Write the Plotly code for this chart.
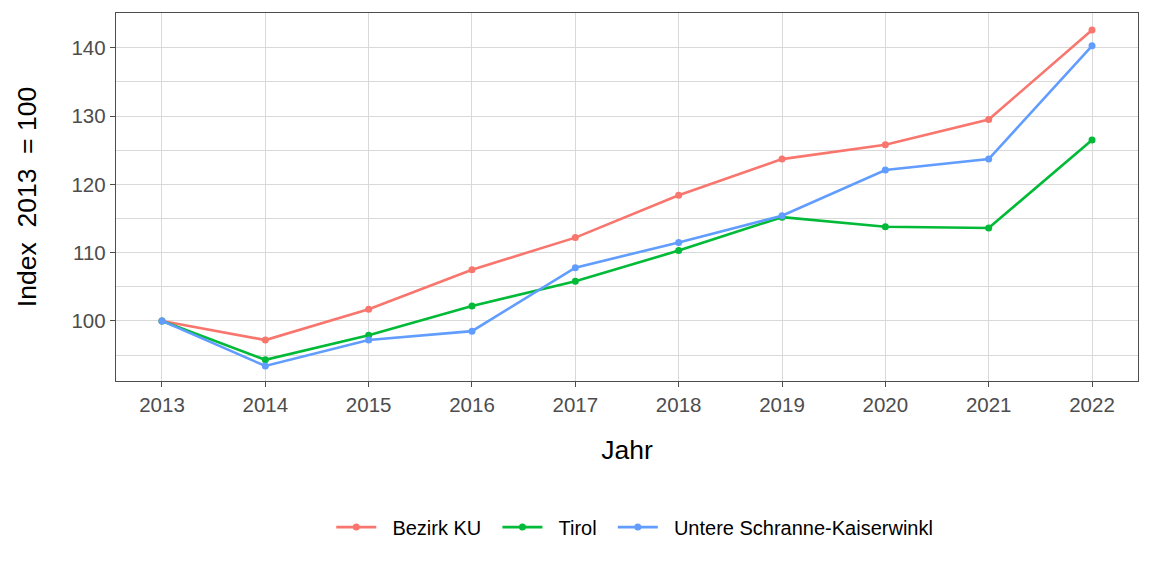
import plotly.graph_objects as go

years = [2013, 2014, 2015, 2016, 2017, 2018, 2019, 2020, 2021, 2022]
bezirk_ku = [100, 97.2, 101.7, 107.5, 112.2, 118.4, 123.7, 125.8, 129.5, 142.6]
tirol = [100, 94.3, 97.9, 102.2, 105.8, 110.3, 115.2, 113.8, 113.6, 126.5]
untere = [100, 93.4, 97.2, 98.5, 107.8, 111.5, 115.4, 122.1, 123.7, 140.3]

series = [
    ("Bezirk KU", bezirk_ku, "#F8766D"),
    ("Tirol", tirol, "#00BA38"),
    ("Untere Schranne-Kaiserwinkl", untere, "#619CFF"),
]

fig = go.Figure()
for name, vals, col in series:
    fig.add_trace(go.Scatter(
        x=years, y=vals, name="\u00a0\u00a0" + name + "\u00a0\u00a0", mode="lines+markers",
        line=dict(color=col, width=2.6),
        marker=dict(color=col, size=7),
    ))

grid = "#D9D9D9"
axcol = "#4D4D4D"
fig.update_layout(
    width=1152, height=576,
    margin=dict(l=116, r=14, t=13, b=195),
    paper_bgcolor="white", plot_bgcolor="white",
    font=dict(family="Liberation Sans, Arial, sans-serif", color="black"),
    showlegend=True,
    legend=dict(orientation="h", x=0.513, xanchor="center", y=-0.397, yanchor="middle",
                font=dict(size=20, color="black"), itemwidth=40),
)
fig.update_xaxes(
    range=[2012.555, 2022.445], tickmode="array", tickvals=years,
    ticktext=[str(y) for y in years],
    showgrid=True, gridcolor=grid, gridwidth=1,
    showline=True, mirror=True, linecolor=axcol, linewidth=1.4,
    ticks="outside", ticklen=5, tickcolor=axcol,
    tickfont=dict(size=20.5, color=axcol),
    title=dict(text="Jahr", font=dict(size=26.5, color="black"), standoff=25),
    zeroline=False,
)
fig.update_yaxes(
    range=[91.2, 145.1], tick0=100, dtick=10,
    showgrid=True, gridcolor=grid, gridwidth=1,
    minor=dict(dtick=5, tick0=95, showgrid=True, gridcolor=grid, gridwidth=1),
    showline=True, mirror=True, linecolor=axcol, linewidth=1.4,
    ticks="outside", ticklen=5, tickcolor=axcol,
    tickfont=dict(size=20.5, color=axcol),
    title=dict(text="Index\u00a0\u00a02013\u00a0\u00a0=\u00a0100", font=dict(size=26.5, color="black"), standoff=27),
    zeroline=False,
)
fig.write_html("out.html")
